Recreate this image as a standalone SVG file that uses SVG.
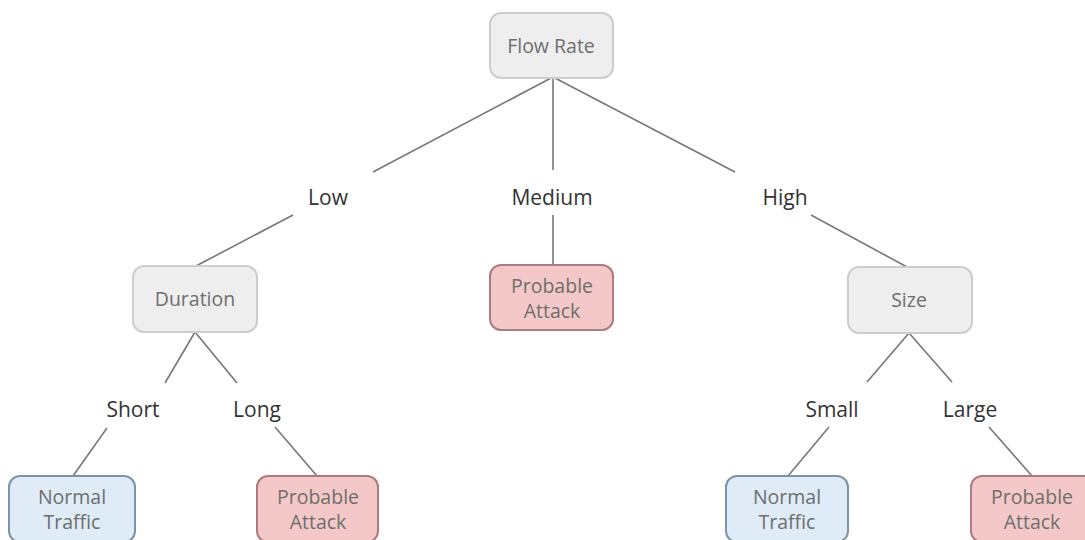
<svg xmlns="http://www.w3.org/2000/svg" width="1085" height="540" viewBox="0 0 1085 540">
<style>
.box{stroke-width:2}
.gray{fill:#eeeeee;stroke:#cdcdcd}
.red{fill:#f4c8c8;stroke:#ad7b7b}
.blue{fill:#dfebf7;stroke:#7d94a6}
.bt{font-family:"Open Sans",sans-serif;font-size:19.5px;fill:#6e6e6e;text-anchor:middle}
.lbl{font-family:"Open Sans",sans-serif;font-size:21px;fill:#333333;text-anchor:middle}
.conn line{stroke:#777777;stroke-width:1.6}
</style>
<rect width="1085" height="540" fill="#ffffff"/>
<g id="connectors" class="conn">
<line x1="553" y1="77" x2="373" y2="172"/>
<line x1="553" y1="77" x2="553" y2="170"/>
<line x1="553" y1="77" x2="735" y2="172"/>
<line x1="293" y1="215" x2="196" y2="266"/>
<line x1="553" y1="215" x2="553" y2="265"/>
<line x1="811" y1="215" x2="907" y2="267"/>
<line x1="195" y1="332" x2="165" y2="383"/>
<line x1="195" y1="332" x2="237" y2="383"/>
<line x1="909" y1="333" x2="867" y2="382"/>
<line x1="909" y1="333" x2="952" y2="382"/>
<line x1="107" y1="428" x2="73" y2="476"/>
<line x1="275" y1="427" x2="317" y2="476"/>
<line x1="829" y1="427" x2="788" y2="476"/>
<line x1="989" y1="427" x2="1032" y2="476"/>
</g>
<g id="flow-rate"><rect class="box gray" x="490" y="13" width="123" height="65" rx="11"/><text class="bt" x="551" y="53">Flow Rate</text></g>
<g id="low"><text class="lbl" x="328" y="205">Low</text></g>
<g id="medium"><text class="lbl" x="552" y="205">Medium</text></g>
<g id="high"><text class="lbl" x="785" y="205">High</text></g>
<g id="duration"><rect class="box gray" x="133" y="266" width="124" height="66" rx="11"/><text class="bt" x="195" y="306">Duration</text></g>
<g id="medium-attack"><rect class="box red" x="490" y="265" width="123" height="65" rx="11"/><text class="bt" x="552" y="293">Probable</text><text class="bt" x="552" y="318">Attack</text></g>
<g id="size"><rect class="box gray" x="848" y="267" width="124" height="66" rx="11"/><text class="bt" x="909" y="307">Size</text></g>
<g id="short"><text class="lbl" x="133" y="417">Short</text></g>
<g id="long"><text class="lbl" x="257" y="417">Long</text></g>
<g id="small"><text class="lbl" x="832" y="417">Small</text></g>
<g id="large"><text class="lbl" x="970" y="417">Large</text></g>
<g id="short-normal"><rect class="box blue" x="9" y="476" width="126" height="66" rx="11"/><text class="bt" x="72" y="504">Normal</text><text class="bt" x="72" y="529">Traffic</text></g>
<g id="long-attack"><rect class="box red" x="257" y="476" width="121" height="66" rx="11"/><text class="bt" x="318" y="504">Probable</text><text class="bt" x="318" y="529">Attack</text></g>
<g id="small-normal"><rect class="box blue" x="726" y="476" width="122" height="66" rx="11"/><text class="bt" x="787" y="504">Normal</text><text class="bt" x="787" y="529">Traffic</text></g>
<g id="large-attack"><rect class="box red" x="971" y="476" width="125" height="66" rx="11"/><text class="bt" x="1032" y="504">Probable</text><text class="bt" x="1032" y="529">Attack</text></g>
</svg>
